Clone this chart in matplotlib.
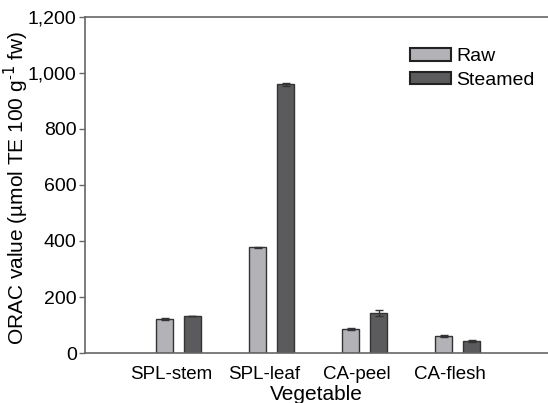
import matplotlib
matplotlib.use("Agg")
import matplotlib.pyplot as plt
import matplotlib.ticker as ticker
import numpy as np

plt.rcParams["font.family"] = ["Liberation Sans", "DejaVu Sans"]

vegetables = ["SPL-stem", "SPL-leaf", "CA-peel", "CA-flesh"]
raw = [121, 378, 86, 61]
raw_err = [3, 2, 2, 3]
steamed = [132, 959, 143, 44]
steamed_err = [1, 6, 11, 3]

RAW_COLOR = "#b3b3b7"
STEAM_COLOR = "#5b5b5d"
EDGE = "#333333"

fig = plt.figure(figsize=(5.48, 4.03), dpi=100)
ax = fig.add_axes([0.1551, 0.124, 0.8449, 0.834])

x = np.arange(len(vegetables))
width = 0.183
offset = 0.15
err_kw = dict(ecolor=EDGE, elinewidth=1.0, capsize=3, capthick=1.0)
ax.bar(x - offset, raw, width, yerr=raw_err, color=RAW_COLOR, edgecolor=EDGE,
       linewidth=1.0, error_kw=err_kw, label="Raw")
ax.bar(x + offset, steamed, width, yerr=steamed_err, color=STEAM_COLOR, edgecolor=EDGE,
       linewidth=1.0, error_kw=err_kw, label="Steamed")

ax.set_xlim(-1.005, 3.97)
ax.set_ylim(0, 1200)
ax.yaxis.set_major_locator(ticker.MultipleLocator(200))
ax.yaxis.set_major_formatter(ticker.StrMethodFormatter("{x:,.0f}"))
ax.set_xticks(x - 0.08)
ax.set_xticklabels(vegetables)
ax.tick_params(axis="x", length=0, labelsize=13.5, pad=9)
ax.tick_params(axis="y", length=4, width=1, color="#666666", labelsize=14, pad=2)

for side in ["left", "top", "bottom"]:
    ax.spines[side].set_color("#666666")
    ax.spines[side].set_linewidth(1.2)
ax.spines["right"].set_visible(False)

ax.set_xlabel("Vegetable", fontsize=15, labelpad=1)
ax.xaxis.set_label_coords(0.5, -0.095)
ax.set_ylabel("ORAC value (µmol TE 100 g$^{\\mathregular{\u2010}1}$ fw)", fontsize=15)
ax.yaxis.set_label_coords(-0.116, 0.49)

leg = ax.legend(loc="upper left", bbox_to_anchor=(0.685, 0.93), frameon=False,
                fontsize=14, handlelength=2.1, handleheight=0.6,
                handletextpad=0.3, labelspacing=0.35, borderaxespad=0)
for h in leg.legend_handles:
    h.set_linewidth(1.5)
    h.set_edgecolor("#222222")

fig.savefig("out.png", dpi=100)
